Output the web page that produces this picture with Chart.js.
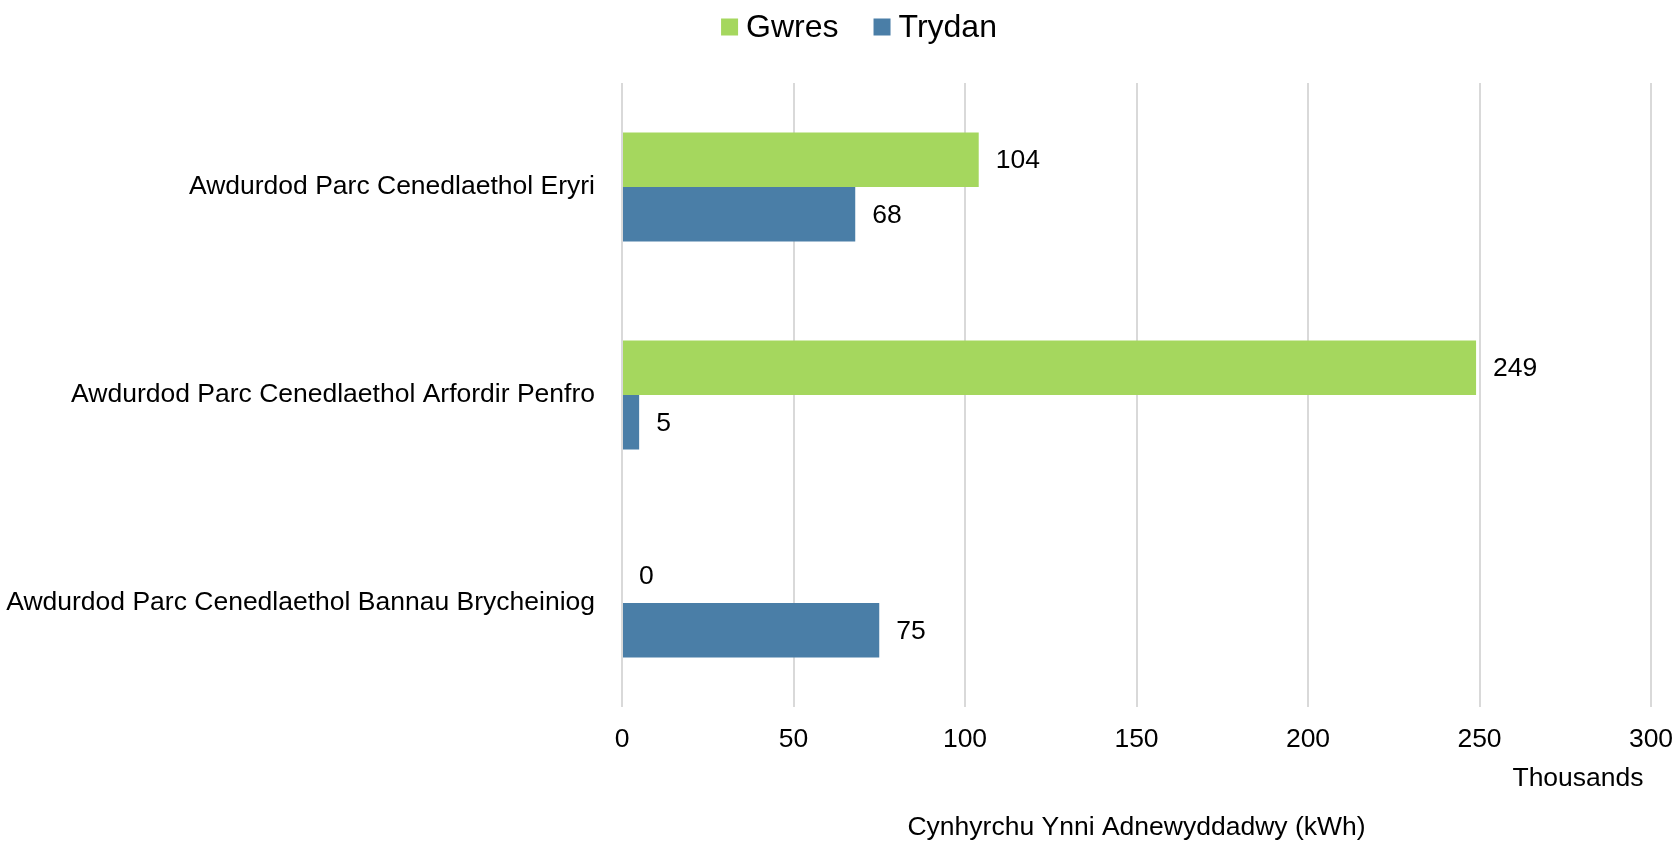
<!DOCTYPE html>
<html>
<head>
<meta charset="utf-8">
<script src="https://cdn.jsdelivr.net/npm/chart.js@4.4.1/dist/chart.umd.min.js"></script>
<style>
  html, body { margin: 0; padding: 0; background: #ffffff; }
  #wrap { width: 1679px; height: 846px; position: relative; }
</style>
</head>
<body>
<div id="wrap"><canvas id="c" width="1679" height="846"></canvas></div>
<script>
const categories = [
  'Awdurdod Parc Cenedlaethol Eryri',
  'Awdurdod Parc Cenedlaethol Arfordir Penfro',
  'Awdurdod Parc Cenedlaethol Bannau Brycheiniog'
];
const seriesNames = ['Gwres', 'Trydan'];
const gwres = [104, 249, 0];
const trydan = [68, 5, 75];
const xTicks = [0, 50, 100, 150, 200, 250, 300];
const unitLabel = 'Thousands';
const axisTitle = 'Cynhyrchu Ynni Adnewyddadwy (kWh)';

const FONT = "'Liberation Sans', Arial, sans-serif";
const FS = 26.5;

// Legend drawn from the chart's datasets (labels + colours)
const topLegend = {
  id: 'topLegend',
  afterDraw(chart) {
    const ctx = chart.ctx;
    const box = 17, gapText = 8, gapItem = 35, cy = 27, centerX = 859;
    ctx.save();
    ctx.font = '32px ' + FONT;
    ctx.textBaseline = 'middle';
    ctx.textAlign = 'left';
    const items = chart.data.datasets.map(ds => ({
      text: ds.label, color: ds.backgroundColor, w: ctx.measureText(ds.label).width
    }));
    let total = 0;
    items.forEach((it, i) => { total += box + gapText + it.w + (i < items.length - 1 ? gapItem : 0); });
    let x = centerX - total / 2;
    items.forEach(it => {
      ctx.fillStyle = it.color;
      ctx.fillRect(x, cy - box / 2, box, box);
      ctx.fillStyle = '#000000';
      ctx.fillText(it.text, x + box + gapText, cy + 1);
      x += box + gapText + it.w + gapItem;
    });
    ctx.restore();
  }
};

const valueLabels = {
  id: 'valueLabels',
  afterDatasetsDraw(chart) {
    const ctx = chart.ctx;
    ctx.save();
    ctx.font = FS + 'px ' + FONT;
    ctx.fillStyle = '#000000';
    ctx.textAlign = 'left';
    ctx.textBaseline = 'middle';
    chart.data.datasets.forEach((ds, di) => {
      const meta = chart.getDatasetMeta(di);
      meta.data.forEach((bar, i) => {
        ctx.fillText(String(ds.data[i]), bar.x + 17, bar.y + 1);
      });
    });
    ctx.restore();
  }
};

const unitText = {
  id: 'unitText',
  afterDraw(chart) {
    const xs = chart.scales.x;
    const ctx = chart.ctx;
    ctx.save();
    ctx.font = FS + 'px ' + FONT;
    ctx.fillStyle = '#000000';
    ctx.textAlign = 'center';
    ctx.textBaseline = 'middle';
    ctx.fillText(unitLabel, xs.getPixelForValue(xTicks[xTicks.length - 1]) - 73, xs.top + 72);
    ctx.restore();
  }
};

new Chart(document.getElementById('c'), {
  type: 'bar',
  data: {
    labels: categories,
    datasets: [
      { label: seriesNames[0], data: gwres, backgroundColor: '#A5D75E', borderWidth: 0 },
      { label: seriesNames[1], data: trydan, backgroundColor: '#4A7EA7', borderWidth: 0 }
    ]
  },
  options: {
    indexAxis: 'y',
    responsive: false,
    animation: false,
    devicePixelRatio: 1,
    layout: { padding: { top: 83, left: 5, right: 0, bottom: 0 } },
    categoryPercentage: 0.523,
    barPercentage: 1.0,
    scales: {
      x: {
        min: 0,
        max: 300,
        afterBuildTicks(scale) { scale.ticks = xTicks.map(v => ({ value: v })); },
        afterFit(scale) { scale.height = 139; scale.paddingRight = 28; scale.paddingLeft = 0; },
        grid: { color: '#d9d9d9', lineWidth: 2, drawTicks: false },
        border: { display: false },
        ticks: { color: '#000000', font: { family: FONT, size: FS }, padding: 17, maxRotation: 0 },
        title: {
          display: true,
          text: axisTitle,
          color: '#000000',
          font: { family: FONT, size: FS },
          padding: { top: 56, bottom: 2 }
        }
      },
      y: {
        afterFit(scale) { scale.width = 617; },
        grid: { display: false, drawTicks: false },
        border: { display: false },
        ticks: { color: '#000000', font: { family: FONT, size: FS }, padding: 27 }
      }
    },
    plugins: {
      legend: { display: false },
      tooltip: { enabled: false }
    }
  },
  plugins: [topLegend, valueLabels, unitText]
});
</script>
</body>
</html>
